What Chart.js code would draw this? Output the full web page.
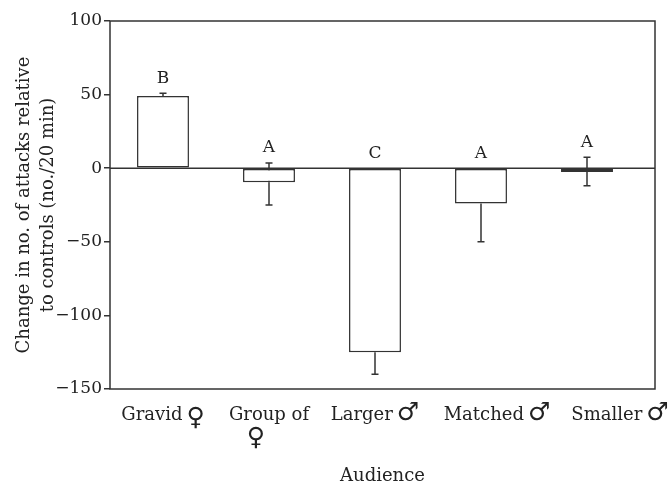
<!DOCTYPE html>
<html>
<head>
<meta charset="utf-8">
<script src="https://cdn.jsdelivr.net/npm/chart.js@4"></script>
<style>
  html, body { margin: 0; padding: 0; background: #fff; }
  #wrap { width: 672px; height: 485px; }
</style>
</head>
<body>
<div id="wrap"><canvas id="attackChart"></canvas></div>
<script>
// Data
const audiences = ["Gravid", "Group of", "Larger", "Matched", "Smaller"];
const sexSymbols = ["\u2640", "\u2640", "\u2642", "\u2642", "\u2642"];
const changeValues = [49, -9.5, -125, -24, -2.5];
const errHigh = [51, 3.5, -125, -24, 7.5];
const errLow = [49, -25, -140, -50, -12];
const groupLetters = ["B", "A", "C", "A", "A"];
const yTicks = [100, 50, 0, -50, -100, -150];

const ink = "#333";
const txt = "#222";
const serif = "DejaVu Serif, Liberation Serif, serif";
const symFont = "25px 'DejaVu Sans'";
const frameExtra = 15; // frame runs a little past the last category
const labelShift = [0, 0, 0, 16, 33]; // the last labels are pushed right in the original

const errorBars = {
  id: "errorBars",
  beforeDatasetsDraw(chart) {
    const { ctx, chartArea: a, scales: { x, y } } = chart;
    ctx.save();
    ctx.strokeStyle = ink;
    ctx.lineWidth = 1.5;
    // zero line
    const y0p = y.getPixelForValue(0);
    ctx.beginPath();
    ctx.moveTo(a.left, y0p); ctx.lineTo(a.right + frameExtra, y0p);
    ctx.stroke();
    // error bars, under the white bars so only the outside part shows
    changeValues.forEach((v, i) => {
      const cx = x.getPixelForValue(i);
      [errHigh[i], errLow[i]].forEach(e => {
        if (e === v) return;
        const y0 = y.getPixelForValue(v), y1 = y.getPixelForValue(e);
        ctx.beginPath();
        ctx.moveTo(cx, y0); ctx.lineTo(cx, y1);
        ctx.moveTo(cx - 3.5, y1); ctx.lineTo(cx + 3.5, y1);
        ctx.stroke();
      });
    });
    ctx.restore();
  },
  afterDatasetsDraw(chart) {
    const { ctx, chartArea: a, scales: { x, y } } = chart;
    ctx.save();
    // frame
    ctx.strokeStyle = ink;
    ctx.lineWidth = 1.5;
    ctx.strokeRect(a.left, a.top, a.right + frameExtra - a.left, a.bottom - a.top);
    // significance letters
    ctx.fillStyle = txt;
    ctx.font = "17px " + serif;
    ctx.textAlign = "center";
    ctx.textBaseline = "middle";
    groupLetters.forEach((t, i) => {
      const top = Math.max(changeValues[i], errHigh[i], 0);
      ctx.fillText(t, x.getPixelForValue(i), y.getPixelForValue(top) - 15);
    });
    // category labels with a larger sex symbol
    ctx.textBaseline = "alphabetic";
    ctx.textAlign = "left";
    const base = a.bottom + 31;
    audiences.forEach((t, i) => {
      const cx = x.getPixelForValue(i) + labelShift[i];
      ctx.font = "18px " + serif;
      const w1 = ctx.measureText(t).width;
      ctx.font = symFont;
      const w2 = ctx.measureText(sexSymbols[i]).width;
      if (i === 1) {
        ctx.font = "18px " + serif;
        ctx.fillText(t, cx - w1 / 2, base);
        ctx.font = symFont;
        ctx.fillText(sexSymbols[i], cx - 13 - w2 / 2, base + 25);
      } else {
        const gap = 4;
        const left = cx - (w1 + gap + w2) / 2;
        ctx.font = "18px " + serif;
        ctx.fillText(t, left, base);
        ctx.font = symFont;
        ctx.fillText(sexSymbols[i], left + w1 + gap, base + (i === 0 ? 5 : 0));
      }
    });
    // x axis title, centred on the frame
    ctx.font = "18px " + serif;
    ctx.textAlign = "center";
    ctx.textBaseline = "middle";
    ctx.fillText("Audience", (a.left + a.right + frameExtra) / 2, a.bottom + 87);
    ctx.restore();
  }
};

const ctx = document.getElementById("attackChart").getContext("2d");
new Chart(ctx, {
  type: "bar",
  data: {
    labels: audiences,
    datasets: [
      {
        data: changeValues,
        backgroundColor: "#fff",
        borderColor: ink,
        borderWidth: 1.5,
        borderSkipped: false,
        barPercentage: 0.49,
        categoryPercentage: 1,
      },
    ],
  },
  options: {
    responsive: true,
    maintainAspectRatio: false,
    animation: false,
    layout: { padding: { top: 21, right: 17 + frameExtra, left: 0, bottom: 0 } },
    plugins: {
      legend: { display: false },
      tooltip: { enabled: false },
    },
    scales: {
      x: {
        grid: { display: false },
        border: { display: false },
        ticks: { display: false },
        afterFit(scale) { scale.height = 96; },
      },
      y: {
        min: -150,
        max: 100,
        afterBuildTicks(scale) { scale.ticks = yTicks.map(v => ({ value: v })); },
        grid: {
          color: "transparent",
          tickColor: ink,
          tickLength: 6,
          lineWidth: 1.5,
        },
        border: { display: false },
        ticks: {
          color: txt,
          font: { family: serif, size: 17 },
          padding: 2,
          callback: v => String(v).replace("-", "\u2212"),
        },
        title: {
          display: true,
          text: ["Change in no. of attacks relative", "to controls (no./20 min)"],
          color: txt,
          font: { family: serif, size: 18, lineHeight: 1.35 },
          padding: { top: 12, bottom: 4 },
        },
        afterFit(scale) { scale.width = 110; },
      },
    },
  },
  plugins: [errorBars],
});
</script>
</body>
</html>
